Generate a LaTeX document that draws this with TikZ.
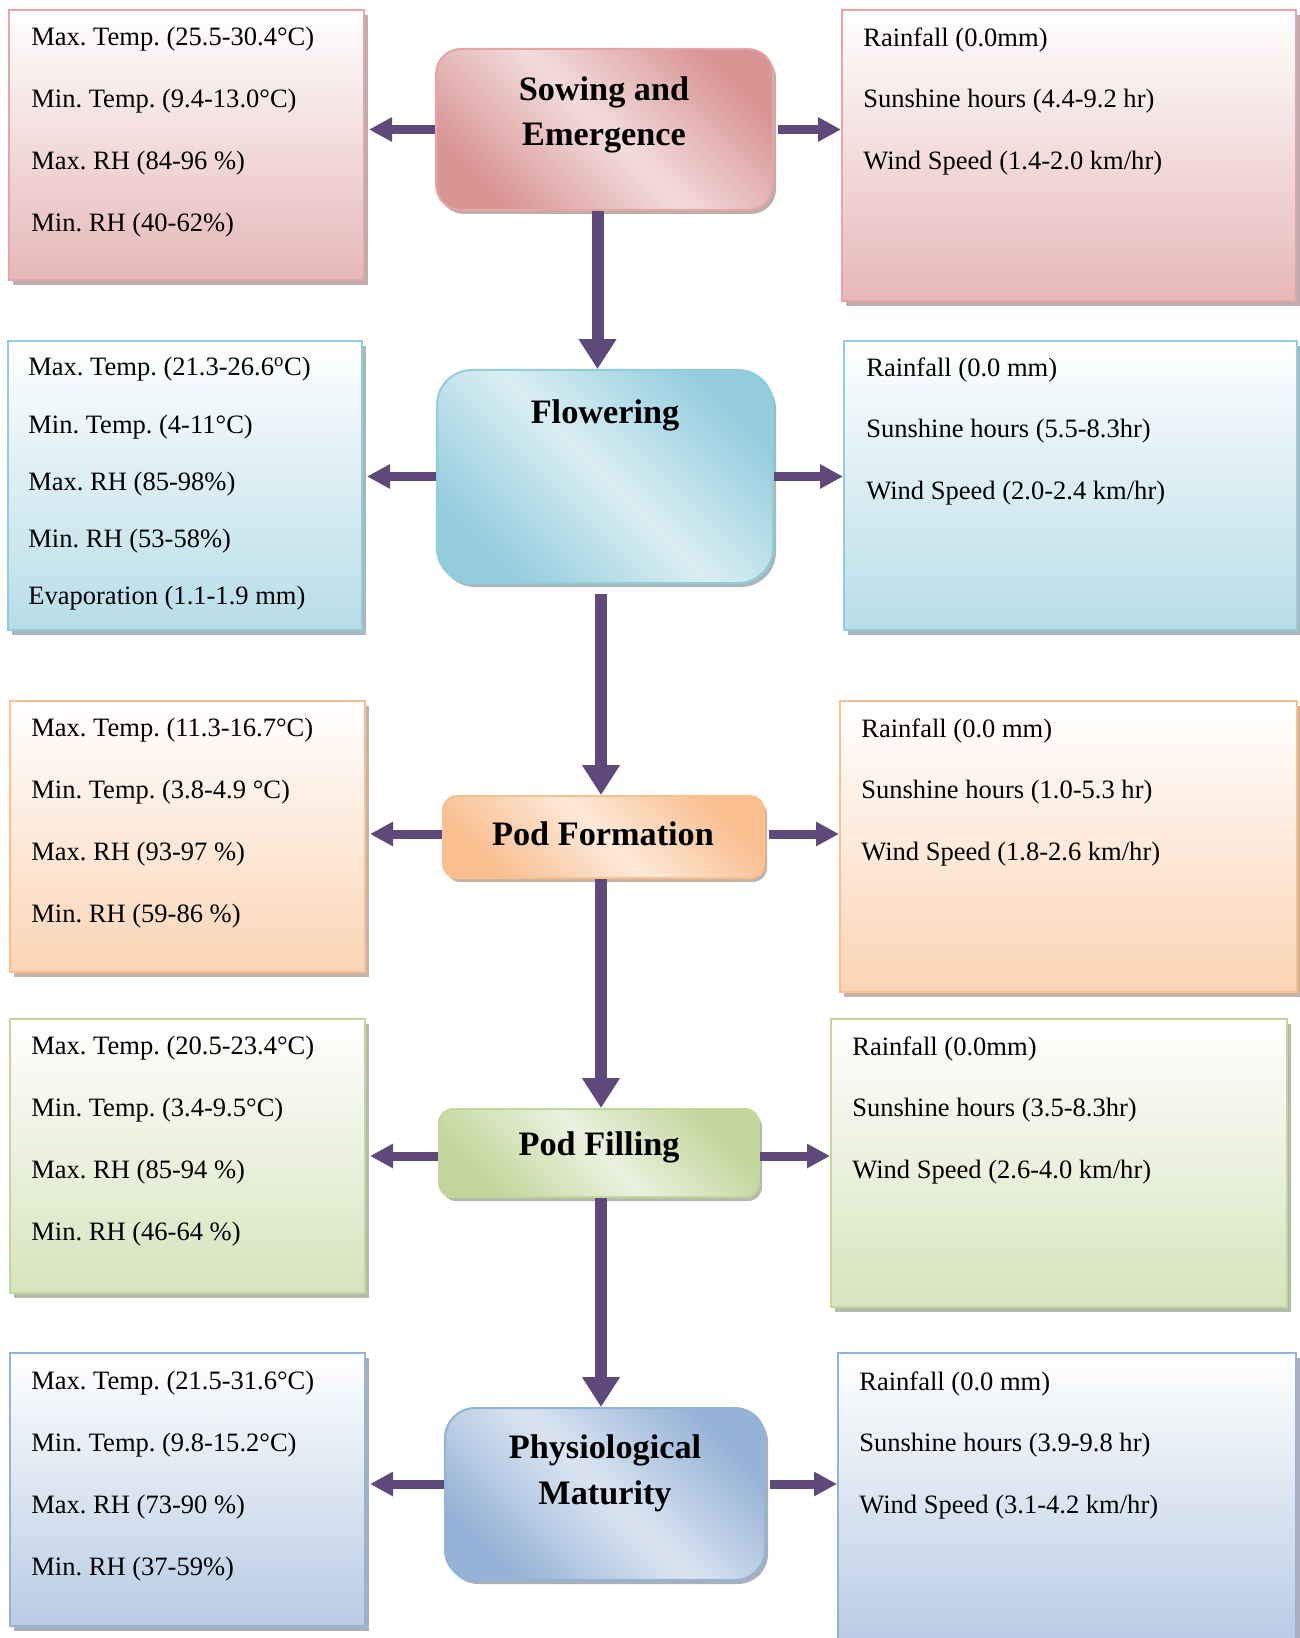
\documentclass[tikz,border=0pt]{standalone}
\usepackage{fontspec}
\setmainfont{Liberation Serif}
\usepackage{tikz}
\usetikzlibrary{positioning,arrows.meta,fit,shadows}
\frenchspacing

\definecolor{arrowpurple}{HTML}{5F497A}
\definecolor{pinkline}{HTML}{E6A5A6}
\definecolor{pinkfill}{HTML}{E6B8B7}
\definecolor{pinkdark}{HTML}{D99594}
\definecolor{pinklight}{HTML}{F2DCDB}
\definecolor{blueline}{HTML}{92CDDC}
\definecolor{bluefill}{HTML}{B7DDE8}
\definecolor{bluedark}{HTML}{93CDDD}
\definecolor{bluelight}{HTML}{DAEEF3}
\definecolor{orangeline}{HTML}{FAC08F}
\definecolor{orangefill}{HTML}{FBD4B4}
\definecolor{orangedark}{HTML}{F9BF8F}
\definecolor{orangelight}{HTML}{FDE9D9}
\definecolor{greenline}{HTML}{C3D69B}
\definecolor{greenfill}{HTML}{D7E3BC}
\definecolor{greendark}{HTML}{C2D69B}
\definecolor{greenlight}{HTML}{EBF1DE}
\definecolor{steelline}{HTML}{95B3D7}
\definecolor{steelfill}{HTML}{B8CCE4}
\definecolor{steeldark}{HTML}{95B3D7}
\definecolor{steellight}{HTML}{DBE5F1}

\begin{document}
\begin{tikzpicture}[
    x=0.02cm, y=-0.02cm,
    sidebox/.style={draw=#1line, line width=0.04cm, top color=white, bottom color=#1fill, inner sep=0pt,
        drop shadow={shadow xshift=0.08cm, shadow yshift=-0.1cm, fill=#1line!55!black, opacity=0.5}},
    stagebox/.style={draw=#1line, line width=0.04cm, left color=#1dark, right color=#1dark,
        middle color=#1light, shading angle=135, inner sep=0pt,
        drop shadow={shadow xshift=0.06cm, shadow yshift=-0.08cm, fill=#1line!55!black, opacity=0.5}},
    stagetitle/.style={font=\fontsize{19.5}{26}\selectfont\bfseries, align=center, inner sep=0pt},
    info/.style={font=\fontsize{15.1}{35.2}\selectfont, align=left, anchor=north west, inner sep=0pt},
    sidearrow/.style={draw=arrowpurple, line width=0.18cm, -{Triangle[width=0.46cm, length=0.46cm]}},
    downarrow/.style={draw=arrowpurple, line width=0.24cm, -{Triangle[width=0.72cm, length=0.6cm]}}
]
\useasboundingbox (0,0) rectangle (1299,1638);

% Stage 1: Sowing and Emergence
\node[sidebox=pink, fit={(9,10) (364,280)}] (sowL) {};
\node[sidebox=pink, fit={(842,10) (1296,301)}] (sowR) {};
\node[stagebox=pink, rounded corners=0.5cm, fit={(436,49) (773,210)}] (sow) {};
\node[stagetitle] (sowT) at (604,115) {Sowing and\\Emergence};
\node[info] at (31,27) {Max. Temp. (25.5-30.4°C)\\Min. Temp. (9.4-13.0°C)\\Max. RH (84-96 \%)\\Min. RH (40-62\%)};
\node[info] at (863,27) {Rainfall (0.0mm)\\Sunshine hours (4.4-9.2 hr)\\Wind Speed (1.4-2.0 km/hr)};

% Stage 2: Flowering
\node[sidebox=blue, fit={(8,341) (362,630)}] (flowL) {};
\node[sidebox=blue, fit={(844,341) (1297,630)}] (flowR) {};
\node[stagebox=blue, rounded corners=0.7cm, fit={(437,370) (773,583)}] (flow) {};
\node[stagetitle] (flowT) at (605,415) {Flowering};
\node[info, font=\fontsize{15.1}{32.6}\selectfont] at (28,357) {Max. Temp. (21.3-26.6\textsuperscript{o}C)\\Min. Temp. (4-11°C)\\Max. RH (85-98\%)\\Min. RH (53-58\%)\\Evaporation (1.1-1.9 mm)};
\node[info] at (866,357) {Rainfall (0.0 mm)\\Sunshine hours (5.5-8.3hr)\\Wind Speed (2.0-2.4 km/hr)};

% Stage 3: Pod Formation
\node[sidebox=orange, fit={(10,701) (365,972)}] (podL) {};
\node[sidebox=orange, fit={(840,701) (1297,992)}] (podR) {};
\node[stagebox=orange, rounded corners=0.28cm, fit={(443,796) (764,878)}] (pod) {};
\node[stagetitle] (podT) at (603,834) {Pod Formation};
\node[info] at (31,718) {Max. Temp. (11.3-16.7°C)\\Min. Temp. (3.8-4.9 °C)\\Max. RH (93-97 \%)\\Min. RH (59-86 \%)};
\node[info] at (861,718) {Rainfall (0.0 mm)\\Sunshine hours (1.0-5.3 hr)\\Wind Speed (1.8-2.6 km/hr)};

% Stage 4: Pod Filling
\node[sidebox=green, fit={(10,1019) (365,1293)}] (fillL) {};
\node[sidebox=green, fit={(831,1019) (1287,1307)}] (fillR) {};
\node[stagebox=green, rounded corners=0.28cm, fit={(439,1109) (759,1197)}] (fill) {};
\node[stagetitle] (fillT) at (599,1147) {Pod Filling};
\node[info] at (31,1036) {Max. Temp. (20.5-23.4°C)\\Min. Temp. (3.4-9.5°C)\\Max. RH (85-94 \%)\\Min. RH (46-64 \%)};
\node[info] at (852,1036) {Rainfall (0.0mm)\\Sunshine hours (3.5-8.3hr)\\Wind Speed (2.6-4.0 km/hr)};

% Stage 5: Physiological Maturity
\node[sidebox=steel, fit={(10,1353) (365,1626)}] (matL) {};
\node[sidebox=steel, fit={(838,1353) (1296,1645)}] (matR) {};
\node[stagebox=steel, rounded corners=0.6cm, fit={(445,1408) (765,1580)}] (mat) {};
\node[stagetitle] (matT) at (605,1473) {Physiological\\Maturity};
\node[info] at (31,1371) {Max. Temp. (21.5-31.6°C)\\Min. Temp. (9.8-15.2°C)\\Max. RH (73-90 \%)\\Min. RH (37-59\%)};
\node[info] at (859,1371) {Rainfall (0.0 mm)\\Sunshine hours (3.9-9.8 hr)\\Wind Speed (3.1-4.2 km/hr)};

% Side arrows
\draw[sidearrow, shorten >=0.08cm] (sow.west) -- (sow.west -| sowL.east);
\draw[sidearrow, shorten <=0.08cm] (sow.east) -- (sow.east -| sowR.west);
\draw[sidearrow, shorten >=0.08cm] (flow.west) -- (flow.west -| flowL.east);
\draw[sidearrow] (flow.east) -- (flow.east -| flowR.west);
\draw[sidearrow, shorten >=0.08cm] ([yshift=0.06cm]pod.west) -- ([yshift=0.06cm]pod.west -| podL.east);
\draw[sidearrow, shorten <=0.08cm] ([yshift=0.06cm]pod.east) -- ([yshift=0.06cm]pod.east -| podR.west);
\draw[sidearrow, shorten >=0.08cm] ([yshift=-0.06cm]fill.west) -- ([yshift=-0.06cm]fill.west -| fillL.east);
\draw[sidearrow] ([yshift=-0.06cm]fill.east) -- ([yshift=-0.06cm]fill.east -| fillR.west);
\draw[sidearrow, shorten >=0.08cm] ([yshift=0.2cm]mat.west) -- ([yshift=0.2cm]mat.west -| matL.east);
\draw[sidearrow, shorten <=0.08cm] ([yshift=0.2cm]mat.east) -- ([yshift=0.2cm]mat.east -| matR.west);

% Down arrows between stages
\draw[downarrow] ([xshift=-0.14cm]sow.south) -- ([xshift=-0.14cm]sow.south |- flow.north);
\draw[downarrow, shorten <=0.2cm] ([xshift=-0.08cm]flow.south) -- ([xshift=-0.08cm]flow.south |- pod.north);
\draw[downarrow] ([xshift=-0.05cm]pod.south) -- ([xshift=-0.05cm]pod.south |- fill.north);
\draw[downarrow] ([xshift=0.04cm]fill.south) -- ([xshift=0.04cm]fill.south |- mat.north);

\end{tikzpicture}
\end{document}
